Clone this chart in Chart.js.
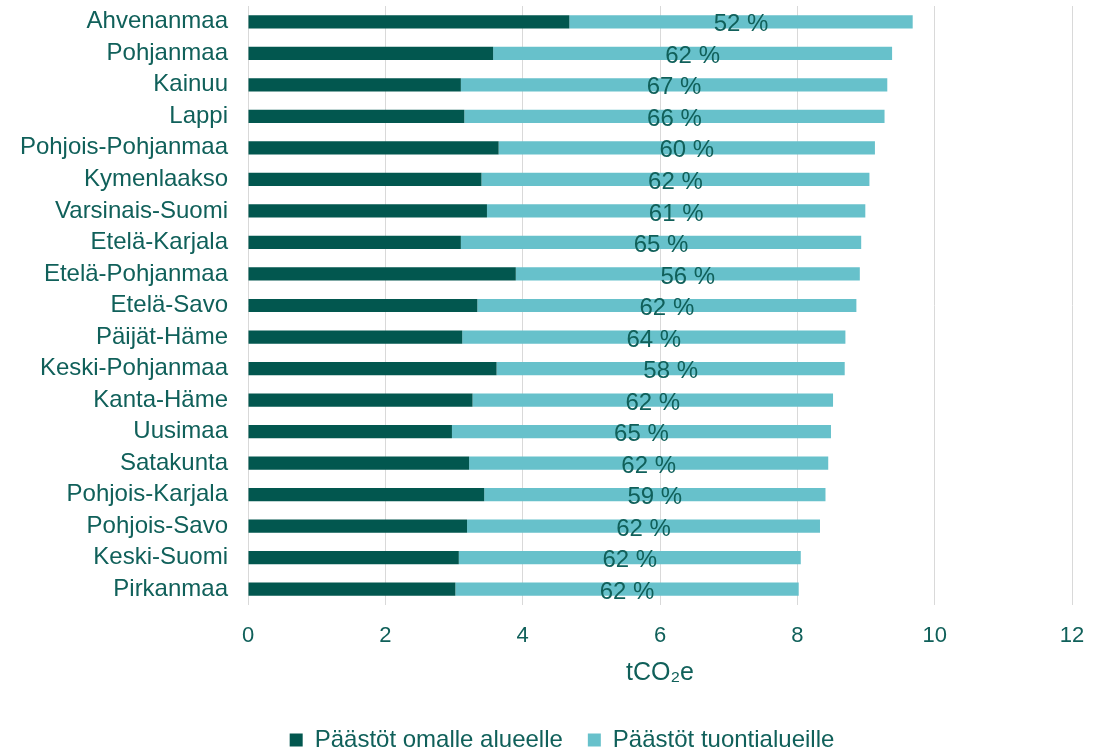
<!DOCTYPE html>
<html>
<head>
<meta charset="utf-8">
<script src="https://cdn.jsdelivr.net/npm/chart.js@4.4.1/dist/chart.umd.min.js"></script>
<style>
  html, body { margin: 0; padding: 0; background: #fff; overflow: hidden; }
  #wrap { width: 1114px; height: 751px; }
</style>
</head>
<body>
<div id="wrap"><canvas id="chart"></canvas></div>
<script>
const regions = ['Ahvenanmaa', 'Pohjanmaa', 'Kainuu', 'Lappi', 'Pohjois-Pohjanmaa', 'Kymenlaakso',
  'Varsinais-Suomi', 'Etelä-Karjala', 'Etelä-Pohjanmaa', 'Etelä-Savo', 'Päijät-Häme',
  'Keski-Pohjanmaa', 'Kanta-Häme', 'Uusimaa', 'Satakunta', 'Pohjois-Karjala', 'Pohjois-Savo',
  'Keski-Suomi', 'Pirkanmaa'];
const ownArea = [4.68, 3.57, 3.10, 3.15, 3.65, 3.40, 3.48, 3.10, 3.90, 3.34, 3.12, 3.62, 3.27,
  2.97, 3.22, 3.44, 3.19, 3.07, 3.02];
const importAreas = [5.00, 5.81, 6.21, 6.12, 5.48, 5.65, 5.51, 5.83, 5.01, 5.52, 5.58, 5.07, 5.25,
  5.52, 5.23, 4.97, 5.14, 4.98, 5.00];
const importShare = [52, 62, 67, 66, 60, 62, 61, 65, 56, 62, 64, 58, 62, 65, 62, 59, 62, 62, 62];
const xTicks = [0, 2, 4, 6, 8, 10, 12];

const textColor = '#10605A';
const fontFamily = '"Liberation Sans", Arial, "DejaVu Sans", sans-serif';

// share labels centred on the import segment
const shareLabels = {
  id: 'shareLabels',
  afterLayout(chart) {
    // nudge the legend a bit to the right like in the original
    chart.legend.left += 26;
    chart.legend.right += 26;
  },
  afterDatasetsDraw(chart) {
    const meta = chart.getDatasetMeta(1);
    const ctx = chart.ctx;
    ctx.save();
    ctx.font = '24px ' + fontFamily;
    ctx.fillStyle = textColor;
    ctx.textAlign = 'center';
    ctx.textBaseline = 'middle';
    meta.data.forEach((bar, i) => {
      const cx = (bar.x + bar.base) / 2;
      ctx.fillText(importShare[i] + ' %', cx, bar.y + 3);
    });
    ctx.restore();
  }
};

new Chart(document.getElementById('chart'), {
  type: 'bar',
  data: {
    labels: regions,
    datasets: [
      {
        label: 'Päästöt omalle alueelle',
        data: ownArea,
        backgroundColor: '#02574F',
        barPercentage: 0.42,
        categoryPercentage: 1
      },
      {
        label: 'Päästöt tuontialueille',
        data: importAreas,
        backgroundColor: '#67C1CB',
        barPercentage: 0.42,
        categoryPercentage: 1
      }
    ]
  },
  options: {
    indexAxis: 'y',
    responsive: true,
    maintainAspectRatio: false,
    animation: false,
    layout: { padding: { top: 6, right: 42, left: 0, bottom: -11 } },
    plugins: {
      legend: {
        position: 'bottom',
        labels: {
          boxWidth: 13,
          boxHeight: 13,
          padding: 25,
          color: textColor,
          font: { family: fontFamily, size: 24 }
        }
      },
      tooltip: { enabled: false }
    },
    scales: {
      x: {
        stacked: true,
        min: 0,
        max: 12,
        afterBuildTicks(scale) {
          scale.ticks = xTicks.map(v => ({ value: v }));
        },
        afterFit(scale) { scale.height = 98; },
        grid: { color: '#D9D9D9', lineWidth: 1, drawTicks: false },
        border: { display: false },
        ticks: {
          padding: 18,
          color: textColor,
          font: { family: fontFamily, size: 22 }
        },
        title: {
          display: true,
          text: 'tCO₂e',
          color: textColor,
          padding: { top: 0, bottom: 15 },
          font: { family: fontFamily, size: 25 }
        }
      },
      y: {
        stacked: true,
        afterFit(scale) {
          scale.width = 248;
          scale.paddingTop = 0;
          scale.paddingBottom = 0;
        },
        grid: { display: false, drawTicks: false },
        border: { display: false },
        ticks: {
          padding: 20,
          color: textColor,
          autoSkip: false,
          font: { family: fontFamily, size: 24 }
        }
      }
    }
  },
  plugins: [shareLabels]
});
</script>
</body>
</html>
